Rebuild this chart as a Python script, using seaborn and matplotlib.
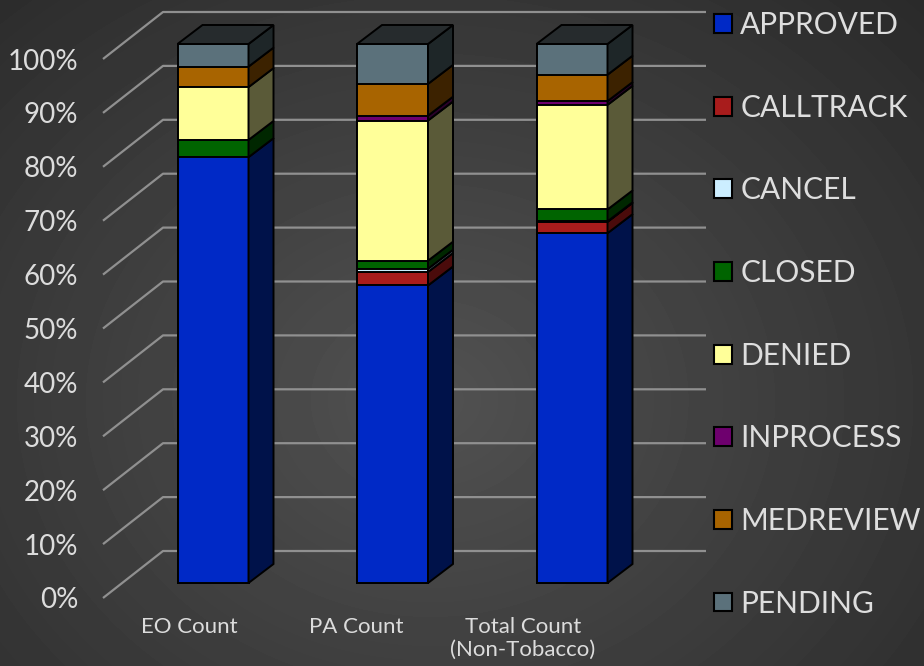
import numpy as np
import pandas as pd
import seaborn as sns
import matplotlib.pyplot as plt
from matplotlib.patches import Polygon, Patch

# chart values (percent of each count)
categories = ["EO Count", "PA Count", "Total Count\n(Non-Tobacco)"]
statuses = ["APPROVED", "CALLTRACK", "CANCEL", "CLOSED", "DENIED",
            "INPROCESS", "MEDREVIEW", "PENDING"]
approved = [79.0, 55.2, 64.9]
calltrack = [0.0, 2.5, 2.1]
cancel = [0.0, 0.6, 0.1]
closed = [3.2, 1.5, 2.2]
denied = [9.8, 26.0, 19.4]
inprocess = [0.0, 0.9, 0.7]
medreview = [3.8, 5.9, 4.9]
pending = [4.2, 7.4, 5.7]
y_ticks = [0, 10, 20, 30, 40, 50, 60, 70, 80, 90, 100]

front_colors = {"APPROVED": "#0029c6", "CALLTRACK": "#a81c1c", "CANCEL": "#cceeff",
                "CLOSED": "#006400", "DENIED": "#ffff99", "INPROCESS": "#6e006e",
                "MEDREVIEW": "#a86400", "PENDING": "#5b717b"}
side_colors = {"APPROVED": "#00124a", "CALLTRACK": "#4a0b0b", "CANCEL": "#4a5a66",
               "CLOSED": "#002700", "DENIED": "#5a5a38", "INPROCESS": "#2a002a",
               "MEDREVIEW": "#3c2200", "PENDING": "#1e2628"}
top_color = "#262b2d"

df = pd.DataFrame({"APPROVED": approved, "CALLTRACK": calltrack, "CANCEL": cancel,
                   "CLOSED": closed, "DENIED": denied, "INPROCESS": inprocess,
                   "MEDREVIEW": medreview, "PENDING": pending}, index=categories)
df = df.div(df.sum(axis=1), axis=0) * 100
cum = df.cumsum(axis=1)

sns.set_theme(style="white")
plt.rcParams['font.family'] = ['Lato', 'DejaVu Sans']

W, H = 924, 666
fig = plt.figure(figsize=(W / 100, H / 100), dpi=100)

# dark radial background
bg = fig.add_axes([0, 0, 1, 1], zorder=-10)
yy, xx = np.mgrid[0:H, 0:W]
r = np.sqrt(((xx - 430) / 620) ** 2 + ((yy - 400) / 520) ** 2)
bg.imshow(np.clip(0.32 - 0.14 * r, 0.15, 0.33), cmap="gray", vmin=0, vmax=1, aspect="auto")
bg.axis("off")

# pixel geometry of the plot area
x0_px, px_x = 213, 179.5     # centre of first bar, px per category
y0_px, px_y = 583, 5.39      # 0% line of bar fronts, px per percent
left_px, right_px = 95, 710
ylo, yhi = -4, 108
ax = fig.add_axes([left_px / W, (H - (y0_px - ylo * px_y)) / H,
                   (right_px - left_px) / W, (yhi - ylo) * px_y / H])
ax.patch.set_alpha(0)

bar_w = 71 / px_x
dx, dy = 25 / px_x, 19 / px_y

# stacked fronts: cumulative totals drawn from the top segment down
for s in reversed(statuses):
    sns.barplot(x=categories, y=cum[s].values, color=front_colors[s], saturation=1,
                width=bar_w, edgecolor="black", linewidth=1.4, errorbar=None,
                ax=ax, zorder=3)

# side and top faces
for i, cat in enumerate(categories):
    xr = i + bar_w / 2
    xl = i - bar_w / 2
    bottom = 0
    for s in statuses:
        top = cum.loc[cat, s]
        if top - bottom > 0:
            ax.add_patch(Polygon([(xr, bottom), (xr + dx, bottom + dy), (xr + dx, top + dy), (xr, top)],
                                 closed=True, facecolor=side_colors[s], edgecolor="black",
                                 linewidth=1.4, zorder=3))
        bottom = top
    ax.add_patch(Polygon([(xl, bottom), (xl + dx, bottom + dy), (xr + dx, bottom + dy), (xr, bottom)],
                         closed=True, facecolor=top_color, edgecolor="black", linewidth=1.4, zorder=3))

# perspective gridlines: floor diagonal then back wall
fx = (103 - x0_px) / px_x
bx = (163 - x0_px) / px_x
ex = (706 - x0_px) / px_x
for v in y_ticks:
    ax.plot([fx, bx, ex], [v - 15 / px_y, v + 32 / px_y, v + 32 / px_y],
            color="#909090", lw=1.6, zorder=1, solid_capstyle="butt")

ax.set_xlim((left_px - x0_px) / px_x, (right_px - x0_px) / px_x)
ax.set_ylim(ylo, yhi)
for sp in ax.spines.values():
    sp.set_visible(False)
ax.grid(False)
ax.set_xlabel("")
ax.set_ylabel("")

label_x = [(189 + 167 * i - x0_px) / px_x for i in range(len(categories))]
ax.set_xticks(label_x, categories)
ax.set_yticks([v - 15 / px_y for v in y_ticks], [f"{v}%" for v in y_ticks])
ax.tick_params(axis="x", length=0, pad=9, labelsize=16, labelcolor="#dcdcdc")
ax.tick_params(axis="y", length=0, pad=12, labelsize=20, labelcolor="#dcdcdc")

handles = [Patch(facecolor=front_colors[s], edgecolor="black", linewidth=1.5) for s in statuses]
fig.legend(handles, statuses, loc="upper left", bbox_to_anchor=(714 / W, 1 - 11 / H),
           frameon=False, fontsize=21.5, labelcolor="#dedede", handlelength=0.6,
           handleheight=0.6, handletextpad=0.28, labelspacing=1.83,
           borderpad=0, borderaxespad=0)

fig.savefig("out.png", dpi=100)
